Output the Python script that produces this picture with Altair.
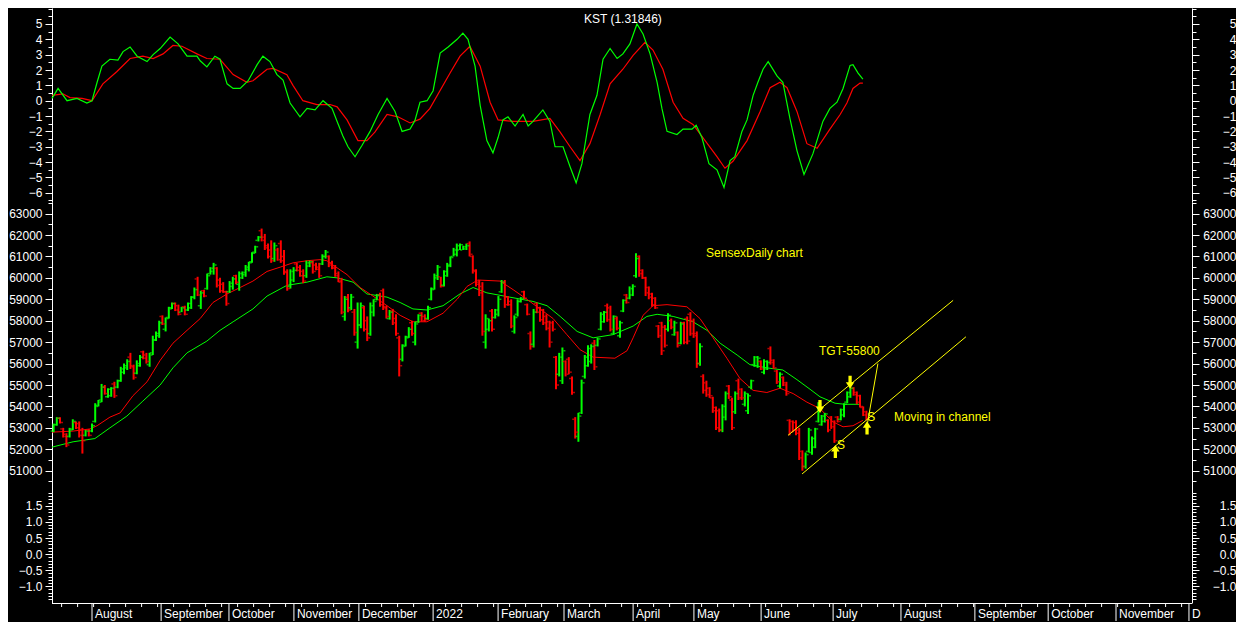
import altair as alt
import pandas as pd

# ---------------- colours / fonts ----------------
GREEN = "#00ff00"
RED = "#ff0000"
YEL = "#ffff00"
FONT = "Liberation Sans"

# ---------------- OHLC bars (thousands of points), one per trading day ----------------
bar_open_k = [
    52.85, 53.15, 53.45, 52.95, 52.7, 52.6, 52.95, 53.25, 53.2, 52.9, 52.65, 52.9,
    52.85, 53.3, 54.05, 54.3, 54.9, 54.45, 54.5, 55.05, 54.9, 55.2, 55.6, 55.8, 56.3, 55.9, 55.55, 55.9, 56.55, 56.4,
    55.95, 56.5, 57.1, 57.3, 58.2, 57.6, 58.15, 58.6, 58.8, 58.7, 58.4, 58.65, 58.5, 58.6, 59.1, 59.95, 58.7, 59.4, 59.5, 60.2, 60.3, 60.45, 59.9, 59.7, 59.35,
    59.35, 59.6, 60.1, 59.7, 60.0, 60.15, 60.4, 60.75, 61.2, 61.75, 62.2, 61.9, 61.5, 61.3, 60.9, 61.3, 61.6, 61.0, 60.3, 59.6,
    59.9, 60.65, 60.5, 60.3, 60.1, 60.55, 60.7, 60.6, 60.5, 60.65, 61.0, 61.0, 60.7, 60.5, 60.2, 59.8, 58.2, 59.1, 58.6, 58.4, 57.0,
    57.8, 58.6, 58.0, 57.4, 58.4, 59.0, 59.2, 59.4, 58.65, 58.1, 58.45, 58.1, 57.2, 56.2, 56.85, 57.25, 57.9, 57.0, 57.95, 58.35, 58.2, 58.1, 59.0,
    59.5, 60.0, 60.05, 59.65, 60.1, 60.55, 61.0, 61.1, 61.3, 61.3, 61.35, 61.6, 61.0, 60.35, 59.8, 59.6, 57.0, 57.6, 58.45, 58.15,
    58.3, 59.35, 59.8, 59.1, 58.9, 57.5, 58.3, 58.9, 59.35, 58.75, 57.4, 56.9, 58.8, 58.6, 58.5, 58.2, 57.95, 57.9, 56.3, 55.5, 55.2,
    56.1, 56.2, 55.3, 53.4, 52.6, 53.7, 55.4, 55.9, 56.1, 56.95, 56.85, 57.6, 57.95, 58.7, 58.6, 57.4, 58.1, 57.3, 58.45, 59.2, 59.05,
    59.2, 60.1, 61.0, 60.35, 60.0, 59.55, 59.25, 59.05, 57.75, 57.9, 57.7, 57.6, 58.0, 57.35, 57.45, 56.95, 57.9, 58.1, 58.3,
    58.0, 57.4, 56.0, 55.4, 55.1, 54.85, 54.4, 53.95, 53.8, 52.9, 53.5, 54.95, 54.3, 53.75, 55.2, 54.8, 54.1, 53.8, 54.9, 55.95, 55.9,
    56.1, 55.6, 55.75, 56.7, 56.15, 55.65, 54.95, 55.35, 55.1, 53.35, 53.3, 53.25, 52.9, 51.9, 51.2, 51.9, 51.85, 52.1, 53.3, 53.15, 53.3, 53.35, 53.5,
    53.3, 53.5, 53.4, 53.6, 54.2, 54.45, 54.85, 54.65, 54.5, 53.95, 53.75,
]
bar_high_k = [
    53.2, 53.5, 53.5, 53.0, 52.75, 53.0, 53.4, 53.3, 53.3, 53.0, 52.9, 52.95,
    53.2, 54.15, 54.3, 55.05, 55.0, 54.85, 54.9, 55.15, 55.25, 55.85, 56.0, 56.2, 56.5, 55.95, 56.15, 56.4, 56.6, 56.5,
    56.5, 57.3, 57.5, 58.0, 58.25, 58.15, 58.65, 58.85, 58.85, 58.75, 58.65, 58.7, 58.85, 59.15, 59.55, 60.05, 59.4, 59.45, 60.2, 60.5, 60.7, 60.5, 60.0, 59.8, 59.4,
    59.85, 60.05, 60.15, 60.3, 60.3, 60.6, 60.75, 61.2, 61.5, 61.95, 62.3, 62.05, 61.6, 61.75, 61.65, 61.4, 61.75, 61.3, 60.4, 60.4,
    60.5, 60.7, 60.6, 60.4, 60.8, 60.8, 60.8, 60.7, 60.7, 61.1, 61.3, 61.05, 60.8, 60.6, 60.3, 60.0, 59.15, 59.25, 59.25, 58.55, 58.85,
    58.85, 58.7, 58.2, 58.85, 59.0, 59.25, 59.3, 59.5, 58.7, 58.5, 58.55, 58.3, 57.3, 56.9, 57.3, 57.7, 58.0, 57.95, 58.3, 58.4, 58.3, 58.7, 59.55,
    60.2, 60.6, 60.05, 60.35, 60.7, 61.0, 61.4, 61.6, 61.6, 61.5, 61.6, 61.7, 61.05, 60.4, 59.9, 59.8, 58.3, 58.1, 58.55, 58.55,
    59.15, 59.9, 59.9, 59.15, 59.0, 58.25, 59.0, 59.1, 59.4, 58.8, 57.5, 58.55, 58.85, 58.65, 58.55, 58.3, 58.0, 58.0, 56.35, 56.5, 56.75,
    56.15, 56.3, 55.4, 53.5, 53.7, 55.25, 56.4, 56.85, 56.9, 57.1, 57.2, 58.4, 58.45, 58.8, 58.7, 58.25, 58.2, 58.0, 59.0, 59.25, 59.6,
    59.7, 61.15, 61.05, 60.4, 60.05, 59.6, 59.3, 59.1, 57.8, 57.95, 57.8, 58.35, 58.1, 58.0, 57.5, 57.95, 57.95, 58.2, 58.4,
    58.1, 57.5, 56.95, 55.5, 55.2, 54.9, 54.45, 54.0, 53.9, 54.1, 54.7, 55.0, 54.4, 54.7, 55.3, 54.85, 54.7, 54.6, 55.25, 56.35, 56.35,
    56.15, 56.2, 56.15, 56.8, 56.2, 55.7, 55.6, 55.4, 55.15, 53.4, 53.35, 53.35, 53.0, 51.95, 51.85, 53.0, 52.6, 53.0, 54.2, 53.6, 53.7, 53.4, 53.55,
    53.35, 53.55, 53.9, 54.15, 54.7, 54.9, 54.9, 54.7, 54.55, 54.0, 53.8,
]
bar_low_k = [
    52.8, 53.1, 53.2, 52.55, 52.1, 52.55, 52.9, 52.95, 52.55, 51.8, 52.6, 52.6,
    52.8, 53.25, 54.0, 54.2, 54.55, 54.4, 54.45, 54.4, 54.85, 55.15, 55.5, 55.7, 55.75, 55.25, 55.5, 55.85, 56.2, 56.0,
    55.85, 56.4, 57.05, 57.2, 57.8, 57.5, 58.1, 58.55, 58.45, 58.25, 58.4, 58.25, 58.45, 58.55, 59.0, 59.15, 58.55, 59.1, 59.45, 60.15, 60.15, 59.55, 59.3, 59.3, 58.7,
    59.3, 59.45, 59.7, 59.4, 59.95, 60.05, 60.3, 60.7, 61.15, 61.7, 61.7, 61.3, 60.9, 60.7, 60.75, 60.8, 60.7, 60.15, 59.4, 59.5,
    59.8, 60.3, 60.05, 59.75, 60.0, 60.5, 60.2, 60.35, 60.0, 60.6, 60.9, 60.5, 60.4, 60.05, 59.8, 58.3, 58.0, 58.4, 58.5, 57.3, 56.7,
    57.65, 57.5, 57.05, 57.3, 58.2, 58.95, 58.65, 58.5, 58.1, 58.05, 57.8, 57.3, 55.4, 56.1, 56.8, 57.2, 57.3, 56.85, 57.9, 57.95, 57.95, 58.05, 58.95,
    59.45, 59.9, 59.55, 59.6, 60.05, 60.5, 61.0, 61.0, 61.3, 61.3, 61.3, 61.0, 60.2, 59.6, 59.15, 57.3, 56.7, 57.5, 57.5, 58.1,
    58.2, 59.3, 58.6, 58.7, 57.65, 57.4, 58.2, 58.85, 59.0, 58.25, 56.65, 56.75, 58.35, 57.95, 57.8, 57.55, 56.75, 57.5, 54.8, 55.4, 55.05,
    55.4, 55.5, 54.55, 52.5, 52.35, 53.65, 55.3, 55.85, 56.0, 55.7, 56.8, 57.55, 57.9, 57.95, 57.5, 57.35, 57.55, 57.2, 58.4, 58.8, 59.0,
    59.15, 60.0, 60.05, 59.95, 59.15, 59.0, 58.65, 58.55, 57.2, 56.4, 56.75, 57.5, 57.6, 57.3, 56.75, 56.9, 56.9, 56.9, 57.3,
    57.2, 55.8, 55.9, 54.6, 54.45, 54.4, 53.7, 52.9, 52.8, 52.8, 53.35, 54.35, 52.9, 53.65, 54.3, 54.3, 54.0, 53.65, 54.8, 55.85, 55.8,
    55.7, 55.5, 55.7, 55.95, 55.75, 55.05, 54.85, 54.95, 54.5, 52.65, 52.8, 52.65, 51.5, 51.0, 51.1, 51.85, 51.75, 52.05, 53.25, 53.1, 53.25, 52.8, 52.95,
    52.3, 53.25, 53.35, 53.5, 54.15, 54.4, 54.5, 54.1, 53.95, 53.55, 53.35,
]
bar_close_k = [
    53.15, 53.45, 53.25, 52.6, 52.2, 52.9, 53.3, 53.0, 52.65, 52.4, 52.85, 52.65,
    53.1, 54.0, 54.2, 54.9, 54.6, 54.8, 54.85, 54.5, 55.2, 55.75, 55.9, 56.1, 55.85, 55.35, 56.0, 56.3, 56.25, 56.1,
    56.4, 57.1, 57.4, 57.9, 57.85, 58.1, 58.55, 58.8, 58.5, 58.3, 58.6, 58.3, 58.8, 59.1, 59.45, 59.2, 59.3, 59.15, 60.1, 60.45, 60.6, 59.65, 59.4, 59.35, 58.8,
    59.75, 59.95, 59.8, 60.2, 60.25, 60.5, 60.7, 61.15, 61.45, 61.9, 61.75, 61.4, 61.0, 60.8, 61.5, 60.85, 60.8, 60.25, 59.5, 60.3,
    60.35, 60.35, 60.1, 59.85, 60.7, 60.75, 60.3, 60.4, 60.1, 61.0, 61.2, 60.6, 60.45, 60.1, 59.85, 58.4, 59.0, 58.5, 59.1, 57.45, 57.8,
    58.7, 57.6, 57.2, 58.7, 58.9, 59.2, 58.75, 58.6, 58.2, 58.4, 57.9, 57.4, 55.9, 56.8, 57.2, 57.6, 57.4, 57.85, 58.25, 58.0, 58.05, 58.6, 59.45,
    60.1, 60.5, 59.6, 60.3, 60.6, 60.95, 61.3, 61.5, 61.55, 61.45, 61.5, 61.1, 60.3, 59.7, 59.3, 57.5, 58.1, 58.0, 57.6, 58.5,
    59.0, 59.8, 58.75, 58.75, 57.75, 58.15, 58.9, 59.05, 59.05, 58.3, 56.8, 58.4, 58.4, 58.05, 57.9, 57.65, 57.0, 57.6, 55.0, 56.3, 56.6,
    55.5, 55.6, 54.65, 52.8, 53.55, 55.1, 56.3, 56.7, 56.8, 55.85, 57.15, 58.3, 58.4, 58.05, 57.6, 58.2, 57.65, 57.9, 58.95, 58.85, 59.5,
    59.6, 60.9, 60.2, 60.0, 59.3, 59.1, 58.75, 58.6, 57.3, 56.6, 56.85, 58.25, 57.7, 57.9, 56.85, 57.85, 57.0, 57.05, 57.4,
    57.3, 56.0, 56.8, 54.75, 54.55, 54.5, 53.8, 53.0, 52.9, 54.0, 54.6, 54.45, 53.0, 54.6, 54.4, 54.4, 54.6, 54.5, 55.2, 56.3, 56.25,
    55.75, 56.1, 56.05, 56.05, 55.8, 55.15, 55.5, 55.0, 54.6, 52.8, 52.9, 52.75, 51.6, 51.2, 51.75, 52.9, 52.5, 52.95, 54.1, 53.55, 53.65, 52.9, 53.05,
    52.4, 53.3, 53.85, 54.1, 54.65, 54.85, 54.55, 54.2, 54.0, 53.6, 53.45,
]

# ---------------- moving averages on the price panel (x in trading-day units) ----------------
ma_red_x = [0, 6.6, 11.9, 14.1, 18.1, 21.3, 25.3, 29.7, 33.8, 37.8, 42.2, 46.3, 50.3, 54.7, 58.8, 62.8, 67.2, 71.3,
            75.3, 79.7, 83.8, 85.9, 87.8, 92.2, 96.3, 100.3, 104.7, 108.8, 112.8, 117.2, 122.2, 126.6, 129.7, 133.1,
            140.0, 144.1, 148.4, 152.5, 156.6, 160.9, 165.0, 169.1, 175.9, 179.7, 181.6, 184.7, 187.8, 192.2, 198.4,
            202.5, 206.6, 210.9, 215.0, 219.1, 223.4, 227.5, 231.6, 235.9, 240.0, 243.8, 247.2, 250.3, 253.4]
ma_red_k = [52.8, 52.85, 52.95, 53.1, 53.5, 53.7, 54.5, 55.15, 56.15, 56.95, 57.55, 58.1, 58.85, 59.25, 59.55, 59.85,
            60.3, 60.5, 60.7, 60.8, 60.85, 60.8, 60.6, 60.15, 59.55, 59.15, 58.7, 58.25, 57.95, 57.95, 58.35, 59.0,
            59.6, 59.9, 59.85, 59.45, 59.0, 58.55, 58.1, 57.35, 56.65, 56.3, 56.25, 56.6, 57.2, 58.25, 58.7, 58.75,
            58.65, 58.1, 57.2, 56.25, 55.3, 54.75, 54.65, 54.85, 54.6, 54.2, 53.9, 53.3, 53.05, 53.1, 53.35]
ma_green_x = [0, 6.6, 13.4, 18.1, 23.4, 28.4, 33.8, 37.8, 42.2, 48.4, 52.5, 56.6, 62.8, 67.2, 73.4, 79.7, 85.9, 89.1,
              94.1, 98.4, 104.7, 108.8, 112.8, 117.2, 122.2, 127.5, 131.6, 135.9, 143.1, 150.3, 154.7, 158.8, 164.1,
              169.1, 175.3, 181.6, 185.9, 189.1, 194.1, 200.3, 204.7, 208.8, 214.1, 218.1, 223.4, 228.4, 232.8, 236.9,
              240.0, 244.7, 247.8, 252.5]
ma_green_k = [52.1, 52.35, 52.5, 53.0, 53.55, 54.25, 55.0, 55.8, 56.5, 57.05, 57.55, 57.95, 58.55, 59.15, 59.65, 59.8,
              60.05, 60.0, 59.8, 59.25, 59.1, 58.85, 58.55, 58.5, 58.7, 59.25, 59.55, 59.3, 59.1, 58.9, 58.7, 58.2,
              57.5, 57.2, 57.35, 57.75, 58.2, 58.3, 58.2, 57.95, 57.55, 56.95, 56.4, 55.95, 55.8, 55.7, 55.25, 54.8,
              54.45, 54.15, 54.1, 54.1]

# ---------------- KST panel ----------------
kst_x = [0, 1.9, 4.7, 7.8, 10.9, 12.5, 14.1, 15.6, 18.1, 20.6, 22.2, 24.4, 26.6, 29.7, 31.6, 33.8, 36.9, 39.4, 42.2,
         45.3, 46.3, 48.4, 50.9, 52.5, 54.7, 56.6, 58.8, 61.3, 64.1, 65.9, 68.1, 70.3, 72.2, 74.4, 77.5, 79.7, 82.2,
         84.7, 87.5, 89.1, 90.9, 92.5, 94.7, 96.9, 99.4, 101.9, 104.7, 107.2, 109.4, 111.9, 113.4, 115.0, 117.2,
         119.1, 121.3, 123.8, 126.6, 128.4, 130.0, 132.2, 133.8, 135.9, 137.8, 139.4, 140.9, 142.5, 144.7, 147.2,
         148.8, 150.3, 153.4, 155.6, 157.2, 159.7, 161.9, 163.8, 165.6, 168.1, 170.3, 172.2, 174.4, 176.6, 178.4,
         180.6, 182.8, 184.7, 186.9, 189.1, 190.6, 192.2, 195.3, 197.2, 200.0, 201.3, 203.1, 205.3, 207.8, 210.0,
         211.9, 213.4, 215.6, 217.2, 219.1, 220.6, 222.2, 223.8, 226.6, 228.4, 230.6, 232.8, 235.0, 237.8, 240.9,
         243.1, 245.3, 247.2, 249.4, 250.3, 251.9, 253.4]
kst_val = [0.15, 0.8, 0.0, 0.15, -0.15, 0.0, 1.2, 2.25, 2.7, 2.65, 3.2, 3.5, 2.9, 2.55, 3.0, 3.4, 4.15, 3.7, 2.9, 2.9,
           2.6, 2.2, 2.9, 2.7, 1.1, 0.8, 0.8, 1.3, 2.35, 2.9, 2.55, 1.7, 1.35, -0.15, -1.05, -0.5, -0.6, 0.0, -0.5,
           -1.35, -2.3, -3.0, -3.65, -2.9, -2.0, -0.9, 0.15, -0.7, -2.0, -1.85, -1.3, -0.1, 0.0, 0.65, 3.1, 3.5, 4.0,
           4.4, 4.0, 2.25, -0.3, -2.6, -3.4, -2.4, -1.25, -1.05, -1.65, -0.9, -1.65, -1.35, -0.6, -1.35, -3.0, -3.0,
           -4.3, -5.35, -4.1, -0.9, 0.35, 2.7, 3.4, 2.75, 3.05, 3.7, 5.0, 4.35, 3.05, 1.2, -0.5, -2.0, -2.2, -1.85,
           -1.85, -1.6, -2.4, -4.1, -4.5, -5.65, -3.9, -3.65, -2.0, -1.25, 0.35, 1.2, 2.05, 2.55, 1.6, 1.2, -1.15,
           -3.25, -4.8, -3.45, -1.35, -0.5, -0.1, 0.8, 2.3, 2.35, 1.8, 1.4]
sig_x = [0, 3.4, 5.6, 9.4, 12.5, 15.9, 20.3, 24.4, 28.4, 31.6, 34.7, 37.8, 40.6, 45.3, 48.4, 52.5, 56.6, 60.9, 62.8,
         67.2, 69.1, 73.4, 75.3, 78.4, 82.8, 86.9, 89.1, 92.2, 95.6, 98.4, 100.9, 104.7, 108.1, 111.9, 115.0, 118.1,
         124.4, 127.5, 130.6, 133.8, 136.9, 139.4, 144.1, 150.3, 155.6, 158.8, 161.9, 165.0, 168.1, 171.3, 174.4,
         178.4, 181.6, 185.3, 187.8, 190.9, 194.1, 197.2, 200.3, 203.4, 207.8, 210.3, 212.8, 217.2, 221.3, 224.4,
         227.5, 229.7, 232.8, 235.9, 239.1, 243.1, 246.3, 248.4, 250.3, 252.5, 253.4]
sig_val = [0.35, 0.45, 0.2, 0.15, 0.0, 1.1, 1.9, 2.75, 2.9, 2.75, 3.05, 3.6, 3.55, 3.05, 2.75, 2.7, 1.7, 1.2, 1.3,
           2.05, 2.1, 1.7, 1.0, 0.0, -0.25, -0.25, -0.4, -1.25, -2.6, -2.6, -2.05, -0.9, -1.05, -1.45, -1.2, -0.5,
           1.8, 2.9, 3.55, 2.25, -0.1, -1.25, -1.35, -1.35, -1.15, -2.05, -3.0, -3.9, -2.8, -0.9, 1.1, 2.05, 2.95,
           3.8, 3.3, 2.05, -0.1, -1.15, -1.55, -2.4, -3.65, -4.4, -3.95, -2.6, -0.7, 0.85, 1.2, 0.85, -0.7, -2.8,
           -3.1, -1.85, -0.9, -0.15, 0.8, 1.15, 1.15]
kst_title = ["KST (1.31846)"]
kst_title_x = [178.4]
kst_title_v = [5.34]

# ---------------- annotations on the price panel ----------------
trend_x1 = [230.0, 234.4, 254.7]
trend_y1 = [52650, 50850, 53100]
trend_x2 = [281.6, 285.6, 258.1]
trend_y2 = [58950, 57250, 56000]
down_arrow_x = [240.0, 249.4]
down_arrow_y = [54000, 55130]
up_arrow_x = [244.8, 254.7]
up_arrow_y = [51900, 53000]
s_mark_x = [246.6, 256.0]
s_mark_y = [52200, 53500]
note_text = ["SensexDaily chart", "TGT-55800", "Moving in channel"]
note_x = [204.4, 239.7, 263.1]
note_y = [61150, 56600, 53520]

# ---------------- time axis ----------------
month_pos = [12.5, 34.1, 55.3, 75.6, 95.9, 119.1, 139.4, 160.0, 181.6, 200.6, 221.6, 244.1, 265.3, 288.4, 311.3,
             332.5, 355.3]
month_names = ["August", "September", "October", "November", "December", "2022", "February", "March", "April",
               "May", "June", "July", "August", "September", "October", "November", "D"]
week_ticks = list(range(3, 356, 5))

# ---------------- axis tick values ----------------
kst_major = list(range(-6, 6))
kst_minor = [k + 0.5 for k in range(-7, 6)] + [6.0]
price_major = list(range(51000, 63001, 1000))
price_minor = list(range(50500, 63501, 1000))
low_major = [-1.0, -0.5, 0.0, 0.5, 1.0, 1.5]
low_minor = [round(-1.5 + 0.1 * k, 1) for k in range(35) if round((-1.5 + 0.1 * k) * 2, 3) % 1 != 0]

# ---------------- layout ----------------
W = 1140
XMAX = 356.25
xs = alt.Scale(domain=[0, XMAX], nice=False, zero=False)
X = alt.X("x:Q", scale=xs, axis=None)

AX = dict(domainColor="white", tickColor="white", labelColor="white", labelFont=FONT,
          labelFontSize=12, grid=False, domainWidth=1, tickWidth=1)


def axis_layers(scale, major, minor, fmt):
    d = pd.DataFrame({"x": [1.0], "v": [major[len(major) // 2]]})
    base = alt.Chart(d).mark_point(opacity=0)
    specs = [
        alt.Axis(orient="left", values=major, format=fmt, tickSize=7, labelPadding=3, **AX),
        alt.Axis(orient="left", values=minor, labels=False, tickSize=4, domain=False, **AX),
        alt.Axis(orient="right", values=major, format=fmt, tickSize=7, labelPadding=37,
                 labelAlign="right", **AX),
        alt.Axis(orient="right", values=minor, labels=False, tickSize=4, domain=False, **AX),
    ]
    return [base.encode(x=X, y=alt.Y("v:Q", scale=scale, axis=ax, title=None)) for ax in specs]


# ---- KST panel ----
top_scale = alt.Scale(domain=[-6.6, 6.04], nice=False, zero=False)
kst_df = pd.DataFrame({"x": kst_x, "v": kst_val})
sig_df = pd.DataFrame({"x": sig_x, "v": sig_val})
ttl_df = pd.DataFrame({"x": kst_title_x, "v": kst_title_v, "t": kst_title})
YT = alt.Y("v:Q", scale=top_scale, axis=None)
top = alt.layer(
    *axis_layers(top_scale, kst_major, kst_minor, "d"),
    alt.Chart(sig_df).mark_line(color=RED, strokeWidth=1.2).encode(x=X, y=YT),
    alt.Chart(kst_df).mark_line(color=GREEN, strokeWidth=1.2).encode(x=X, y=YT),
    alt.Chart(ttl_df).mark_text(color="white", font=FONT, fontSize=12, align="center",
                                baseline="middle").encode(x=X, y=YT, text="t:N"),
).resolve_axis(y="independent").properties(width=W, height=194)

# ---- price panel ----
ps = alt.Scale(domain=[49960, 63540], nice=False, zero=False)
bars = pd.DataFrame({
    "o": [v * 1000 for v in bar_open_k],
    "h": [v * 1000 for v in bar_high_k],
    "l": [v * 1000 for v in bar_low_k],
    "c": [v * 1000 for v in bar_close_k],
})
bars["x"] = bars.index + 0.5
bars["dir"] = ["up" if c >= o else "down" for o, c in zip(bars["o"], bars["c"])]
col = alt.Color("dir:N", scale=alt.Scale(domain=["up", "down"], range=[GREEN, RED]), legend=None)

mar_df = pd.DataFrame({"x": ma_red_x, "p": [v * 1000 for v in ma_red_k]})
mag_df = pd.DataFrame({"x": ma_green_x, "p": [v * 1000 for v in ma_green_k]})
YP = alt.Y("p:Q", scale=ps, axis=None)
trend_df = pd.DataFrame({"x1": trend_x1, "y1": trend_y1, "x2": trend_x2, "y2": trend_y2})
down_df = pd.DataFrame({"x": down_arrow_x, "p": down_arrow_y})
up_df = pd.DataFrame({"x": up_arrow_x, "p": up_arrow_y})
s_df = pd.DataFrame({"x": s_mark_x, "p": s_mark_y, "t": ["S", "S"]})
note_df = pd.DataFrame({"x": note_x, "p": note_y, "t": note_text})

DOWN = "M-0.25,-1L0.25,-1L0.25,0L0.65,0L0,1L-0.65,0L-0.25,0Z"
UP = "M-0.25,1L0.25,1L0.25,0L0.65,0L0,-1L-0.65,0L-0.25,0Z"

price = alt.layer(
    *axis_layers(ps, price_major, price_minor, "d"),
    alt.Chart(mag_df).mark_line(color=GREEN, strokeWidth=1).encode(x=X, y=YP),
    alt.Chart(mar_df).mark_line(color=RED, strokeWidth=1).encode(x=X, y=YP),
    alt.Chart(bars).mark_rule(strokeWidth=2).encode(
        x=X, y=alt.Y("l:Q", scale=ps, axis=None), y2="h:Q", color=col),
    alt.Chart(bars).mark_tick(orient="horizontal", size=2, thickness=1.5, xOffset=-2).encode(
        x=X, y=alt.Y("o:Q", scale=ps, axis=None), color=col),
    alt.Chart(bars).mark_tick(orient="horizontal", size=2, thickness=1.5, xOffset=2).encode(
        x=X, y=alt.Y("c:Q", scale=ps, axis=None), color=col),
    alt.Chart(trend_df).mark_rule(color=YEL, strokeWidth=1).encode(
        x=alt.X("x1:Q", scale=xs, axis=None), x2="x2:Q",
        y=alt.Y("y1:Q", scale=ps, axis=None), y2="y2:Q"),
    alt.Chart(down_df).mark_point(shape=DOWN, filled=True, size=170, color=YEL, opacity=1,
                                  strokeWidth=0).encode(x=X, y=YP),
    alt.Chart(up_df).mark_point(shape=UP, filled=True, size=170, color=YEL, opacity=1,
                                strokeWidth=0).encode(x=X, y=YP),
    alt.Chart(s_df).mark_text(color=YEL, font=FONT, fontSize=12, align="center",
                              baseline="middle").encode(x=X, y=YP, text="t:N"),
    alt.Chart(note_df).mark_text(color=YEL, font=FONT, fontSize=12, align="left",
                                 baseline="middle").encode(x=X, y=YP, text="t:N"),
).resolve_axis(y="independent").properties(width=W, height=291)

# ---- empty lower panel ----
ls = alt.Scale(domain=[-1.52, 1.9], nice=False, zero=False)
bottom = alt.layer(
    *axis_layers(ls, low_major, low_minor, ".1f"),
).resolve_axis(y="independent").properties(width=W, height=110)

# ---- time band ----
edge_df = pd.DataFrame({"a": [0.0], "b": [XMAX]})
mon_df = pd.DataFrame({"x": month_pos, "t": month_names})
wk_df = pd.DataFrame({"x": week_ticks})
band = alt.layer(
    alt.Chart(edge_df).mark_rule(color="white", strokeWidth=1).encode(
        x=alt.X("a:Q", scale=xs, axis=None), x2="b:Q", y=alt.value(0.5)),
    alt.Chart(wk_df).mark_rule(color="white", strokeWidth=1).encode(
        x=X, y=alt.value(0), y2=alt.value(4)),
    alt.Chart(mon_df).mark_rule(color="white", strokeWidth=1).encode(
        x=X, y=alt.value(0), y2=alt.value(18)),
    alt.Chart(mon_df).mark_text(color="white", font=FONT, fontSize=12, align="left",
                                baseline="middle", dx=3).encode(
        x=X, y=alt.value(10.5), text="t:N"),
).properties(width=W, height=18)

chart = alt.vconcat(top, price, bottom, band, spacing=0, bounds="flush").properties(
    padding=0
).configure(background="black").configure_view(strokeWidth=0)

chart.save("out.html", embed_options={"renderer": "svg", "actions": False})
